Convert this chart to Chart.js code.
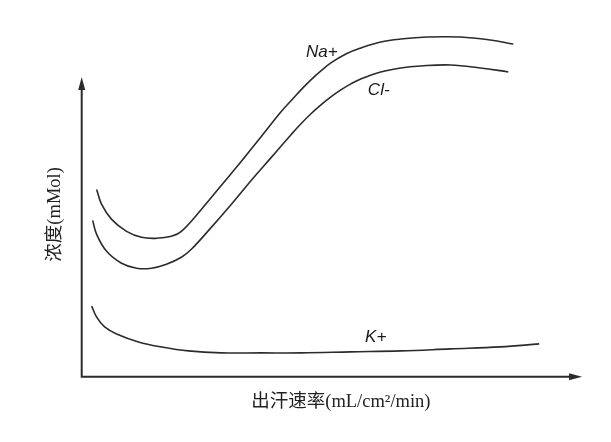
<!DOCTYPE html>
<html>
<head>
<meta charset="utf-8">
<script src="https://cdn.jsdelivr.net/npm/chart.js@4.4.1/dist/chart.umd.min.js"></script>
<style>
    html, body { margin: 0; padding: 0; background: #fff; }
    #chart { display: block; }
</style>
</head>
<body>
<canvas id="chart" width="611" height="442"></canvas>
<script>
// Values (x: sweat rate, y: concentration, arbitrary units)
const naX = [0.30, 0.40, 0.60, 0.90, 1.20, 1.50, 1.80, 2.00, 2.40, 2.80, 3.20, 3.60, 4.00, 4.20, 4.40, 4.60, 4.80, 5.00, 5.30, 5.60, 6.00, 6.40, 6.94, 7.60, 8.20, 8.66];
const naY = [94, 86.5, 79, 73, 70, 69.5, 70.5, 73, 84, 96, 108, 120.5, 133, 138.5, 144, 149, 153.5, 157.5, 162, 165, 168, 169.5, 170.5, 170.5, 169, 167];

const clX = [0.22, 0.30, 0.50, 0.80, 1.10, 1.40, 1.70, 2.00, 2.20, 2.60, 3.00, 3.40, 3.80, 4.20, 4.40, 4.60, 4.80, 5.00, 5.20, 5.40, 5.60, 6.00, 6.40, 6.80, 7.40, 8.00, 8.56];
const clY = [78.5, 71.5, 63, 57, 54.5, 54.5, 56.5, 60, 64, 75, 86.5, 98.5, 110, 121.5, 127, 132, 136.5, 140.5, 144, 147, 149.5, 153, 155, 156, 156.5, 155, 153];

const kX = [0.20, 0.30, 0.46, 0.70, 1.14, 1.60, 2.14, 2.80, 3.60, 4.40, 5.40, 6.40, 7.40, 8.40, 9.18];
const kY = [35.5, 30, 25, 21.5, 17.5, 15, 13, 12, 12, 12, 12.5, 13, 14, 15, 16.5];

// curve names and where they are written (data units)
const seriesNames = ['Na+', 'Cl-', 'K+'];
const labelX = [4.82, 5.96, 5.90];
const labelY = [163, 144, 20];

// axis ends (where the arrow tips sit)
const xAxisEnd = 10.04;
const yAxisEnd = 150.5;

const xTitle = '出汗速率(mL/cm²/min)';
const yTitle = '浓度(mMol)';

const ink = '#2b2b2b';

function toPoints(xs, ys) {
    return xs.map((x, i) => ({ x: x, y: ys[i] }));
}

function makeSeries(xs, ys) {
    return {
        data: toPoints(xs, ys),
        borderColor: ink,
        borderWidth: 1.6,
        pointRadius: 0,
        fill: false,
        tension: 0.4,
        clip: false
    };
}

// draws the arrowed axes and the italic curve names
const axesPlugin = {
    id: 'arrowAxes',
    afterDatasetsDraw(chart) {
        const ctx = chart.ctx;
        const xs = chart.scales.x;
        const ys = chart.scales.y;
        const x0 = xs.getPixelForValue(0);
        const y0 = ys.getPixelForValue(0);
        const xEnd = xs.getPixelForValue(xAxisEnd);
        const yEnd = ys.getPixelForValue(yAxisEnd);

        ctx.save();
        ctx.strokeStyle = ink;
        ctx.fillStyle = ink;
        ctx.lineWidth = 2;
        ctx.beginPath();
        ctx.moveTo(x0, yEnd + 8);
        ctx.lineTo(x0, y0);
        ctx.lineTo(xEnd - 8, y0);
        ctx.stroke();

        // y arrow head
        ctx.beginPath();
        ctx.moveTo(x0, yEnd);
        ctx.lineTo(x0 - 3.5, yEnd + 13);
        ctx.lineTo(x0 + 3.5, yEnd + 13);
        ctx.closePath();
        ctx.fill();

        // x arrow head
        ctx.beginPath();
        ctx.moveTo(xEnd, y0);
        ctx.lineTo(xEnd - 13, y0 - 3.5);
        ctx.lineTo(xEnd - 13, y0 + 3.5);
        ctx.closePath();
        ctx.fill();

        ctx.font = 'italic 17px "Liberation Sans", Arial, sans-serif';
        ctx.textAlign = 'center';
        ctx.textBaseline = 'middle';
        ctx.fillStyle = '#1a1a1a';
        seriesNames.forEach((name, i) => {
            ctx.fillText(name, xs.getPixelForValue(labelX[i]), ys.getPixelForValue(labelY[i]));
        });
        ctx.restore();
    }
};

const titleFont = {
    family: '"Liberation Serif", "Times New Roman", "Noto Sans CJK SC", serif',
    size: 18.5,
    lineHeight: 1.2
};

new Chart(document.getElementById('chart'), {
    type: 'line',
    data: {
        datasets: [
            makeSeries(naX, naY),
            makeSeries(clX, clY),
            makeSeries(kX, kY)
        ]
    },
    options: {
        responsive: false,
        animation: false,
        devicePixelRatio: 1,
        layout: {
            padding: { left: 40, right: 11, top: 52, bottom: 25 }
        },
        scales: {
            x: {
                type: 'linear',
                min: 0,
                max: 10.4,
                grid: { display: false, drawTicks: false },
                border: { display: false },
                ticks: { display: false },
                title: {
                    display: true,
                    text: xTitle,
                    color: '#222',
                    font: titleFont,
                    padding: { top: 14, bottom: 4 }
                }
            },
            y: {
                type: 'linear',
                min: 0,
                max: 163,
                grid: { display: false, drawTicks: false },
                border: { display: false },
                ticks: { display: false },
                title: {
                    display: true,
                    text: yTitle,
                    color: '#222',
                    font: titleFont,
                    padding: { top: 4, bottom: 15.5 }
                }
            }
        },
        plugins: {
            legend: { display: false },
            tooltip: { enabled: false }
        }
    },
    plugins: [axesPlugin]
});
</script>
</body>
</html>
